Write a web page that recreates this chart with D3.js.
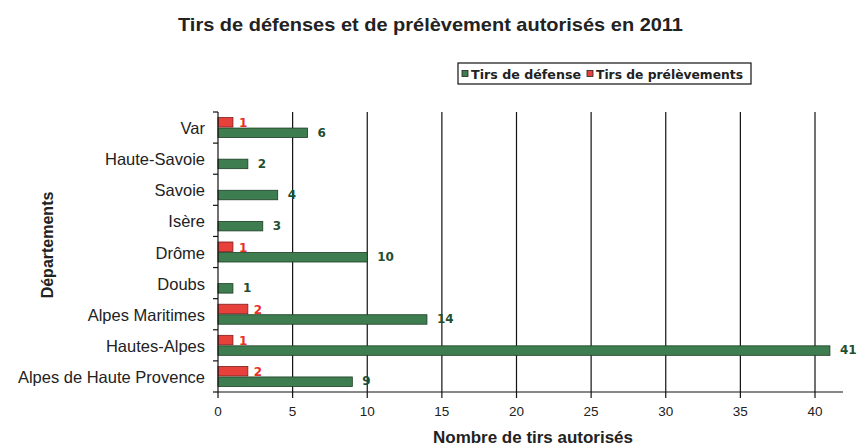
<!DOCTYPE html>
<html>
<head>
<meta charset="utf-8">
<script src="https://cdn.jsdelivr.net/npm/d3@7"></script>
<style>
  body { margin: 0; background: #fff; }
  svg { display: block; font-family: "Liberation Sans", Arial, sans-serif; }
</style>
</head>
<body>
<svg id="chart" width="859" height="446"></svg>
<script>
// Départements, listed top to bottom
const departements = ["Var", "Haute-Savoie", "Savoie", "Isère", "Drôme", "Doubs",
  "Alpes Maritimes", "Hautes-Alpes", "Alpes de Haute Provence"];
// Tirs de défense autorisés
const tirsDefense = [6, 2, 4, 3, 10, 1, 14, 41, 9];
// Tirs de prélèvements autorisés (null = aucun)
const tirsPrelevement = [1, null, null, null, 1, null, 2, 1, 2];
const xTicks = [0, 5, 10, 15, 20, 25, 30, 35, 40];

const svg = d3.select("#chart");
const plotLeft = 218, plotTop = 112, plotBottom = 392, plotRight = 843;

const x = d3.scaleLinear().domain([0, 40]).range([plotLeft, 815]);
const y = d3.scaleBand().domain(departements).range([plotTop, plotBottom]);

const green = "#3d7d4f", red = "#e8403a";
const barH = 9.5;
const wide = "'DejaVu Sans', Verdana, sans-serif";

// Title
svg.append("text").attr("x", 430.5).attr("y", 31).attr("text-anchor", "middle")
  .attr("font-size", 19).attr("font-weight", "bold").attr("fill", "#222")
  .attr("textLength", 505).attr("lengthAdjust", "spacingAndGlyphs")
  .text("Tirs de défenses et de prélèvement autorisés en 2011");

// Vertical grid lines
svg.append("g").selectAll("line").data(xTicks.slice(1)).join("line")
  .attr("x1", d => x(d)).attr("x2", d => x(d))
  .attr("y1", plotTop).attr("y2", plotBottom)
  .attr("stroke", "#111").attr("stroke-width", 1.2);

// Bars: défense
svg.append("g").selectAll("rect").data(departements).join("rect")
  .attr("x", x(0))
  .attr("y", d => y(d) + y.bandwidth() / 2 + 0.5)
  .attr("width", (d, i) => x(tirsDefense[i]) - x(0))
  .attr("height", barH)
  .attr("fill", green).attr("stroke", "#1d3d25").attr("stroke-width", 0.8);

// Bars: prélèvements
const prel = departements.map((d, i) => ({ d, v: tirsPrelevement[i] })).filter(o => o.v != null);
svg.append("g").selectAll("rect").data(prel).join("rect")
  .attr("x", x(0))
  .attr("y", o => y(o.d) + y.bandwidth() / 2 - barH - 0.5)
  .attr("width", o => x(o.v) - x(0))
  .attr("height", barH)
  .attr("fill", red).attr("stroke", "#7a1d1a").attr("stroke-width", 0.8);

// Value labels
svg.append("g").selectAll("text").data(departements).join("text")
  .attr("x", (d, i) => x(tirsDefense[i]) + 10)
  .attr("y", d => y(d) + y.bandwidth() / 2 + 9)
  .attr("font-family", wide).attr("font-size", 12).attr("font-weight", "bold").attr("fill", "#1f4f32")
  .text((d, i) => tirsDefense[i]);
svg.append("g").selectAll("text").data(prel).join("text")
  .attr("x", o => x(o.v) + 6)
  .attr("y", o => y(o.d) + y.bandwidth() / 2 - 0.5)
  .attr("font-family", wide).attr("font-size", 12).attr("font-weight", "bold").attr("fill", "#e8302a")
  .text(o => o.v);

// Y axis
const yAxis = svg.append("g");
yAxis.append("line").attr("x1", plotLeft).attr("x2", plotLeft).attr("y1", plotTop).attr("y2", plotBottom)
  .attr("stroke", "#111").attr("stroke-width", 1.2);
const bounds = departements.map(d => y(d)).concat([plotBottom]);
yAxis.selectAll(".tk").data(bounds).join("line")
  .attr("x1", plotLeft - 5).attr("x2", plotLeft).attr("y1", d => d).attr("y2", d => d)
  .attr("stroke", "#111").attr("stroke-width", 1.2);
yAxis.selectAll("text").data(departements).join("text")
  .attr("x", plotLeft - 13).attr("y", d => y(d) + y.bandwidth() / 2 + 6.5)
  .attr("text-anchor", "end").attr("font-size", 16.5).attr("fill", "#222")
  .text(d => d);

// X axis
const xAxis = svg.append("g");
xAxis.append("line").attr("x1", plotLeft).attr("x2", plotRight).attr("y1", plotBottom).attr("y2", plotBottom)
  .attr("stroke", "#111").attr("stroke-width", 1.2);
xAxis.selectAll(".tk").data(xTicks).join("line")
  .attr("x1", d => x(d)).attr("x2", d => x(d)).attr("y1", plotBottom).attr("y2", plotBottom + 6)
  .attr("stroke", "#111").attr("stroke-width", 1.2);
xAxis.selectAll("text").data(xTicks).join("text")
  .attr("x", d => x(d)).attr("y", plotBottom + 24).attr("text-anchor", "middle")
  .attr("font-size", 13.5).attr("fill", "#222").text(d => d);

// Axis titles
svg.append("text").attr("x", 533).attr("y", 443).attr("text-anchor", "middle")
  .attr("font-size", 17).attr("font-weight", "bold").attr("fill", "#222")
  .attr("textLength", 200).attr("lengthAdjust", "spacingAndGlyphs")
  .text("Nombre de tirs autorisés");
svg.append("text").attr("transform", "translate(53,245) rotate(-90)").attr("text-anchor", "middle")
  .attr("font-size", 16).attr("font-weight", "bold").attr("fill", "#222")
  .text("Départements");

// Legend
const lg = svg.append("g");
lg.append("rect").attr("x", 458).attr("y", 63).attr("width", 293).attr("height", 21)
  .attr("fill", "#fff").attr("stroke", "#111").attr("stroke-width", 1.2);
const items = [
  { t: "Tirs de défense", c: green, x: 462, w: 110 },
  { t: "Tirs de prélèvements", c: red, x: 587, w: 147 }
];
items.forEach(it => {
  lg.append("rect").attr("x", it.x).attr("y", 70.5).attr("width", 6).attr("height", 6)
    .attr("fill", it.c).attr("stroke", "#222").attr("stroke-width", 0.8);
  lg.append("text").attr("x", it.x + 9).attr("y", 79).attr("font-family", wide).attr("font-size", 12.5)
    .attr("font-weight", "bold").attr("fill", "#222")
    .attr("textLength", it.w).attr("lengthAdjust", "spacingAndGlyphs").text(it.t);
});
</script>
</body>
</html>
